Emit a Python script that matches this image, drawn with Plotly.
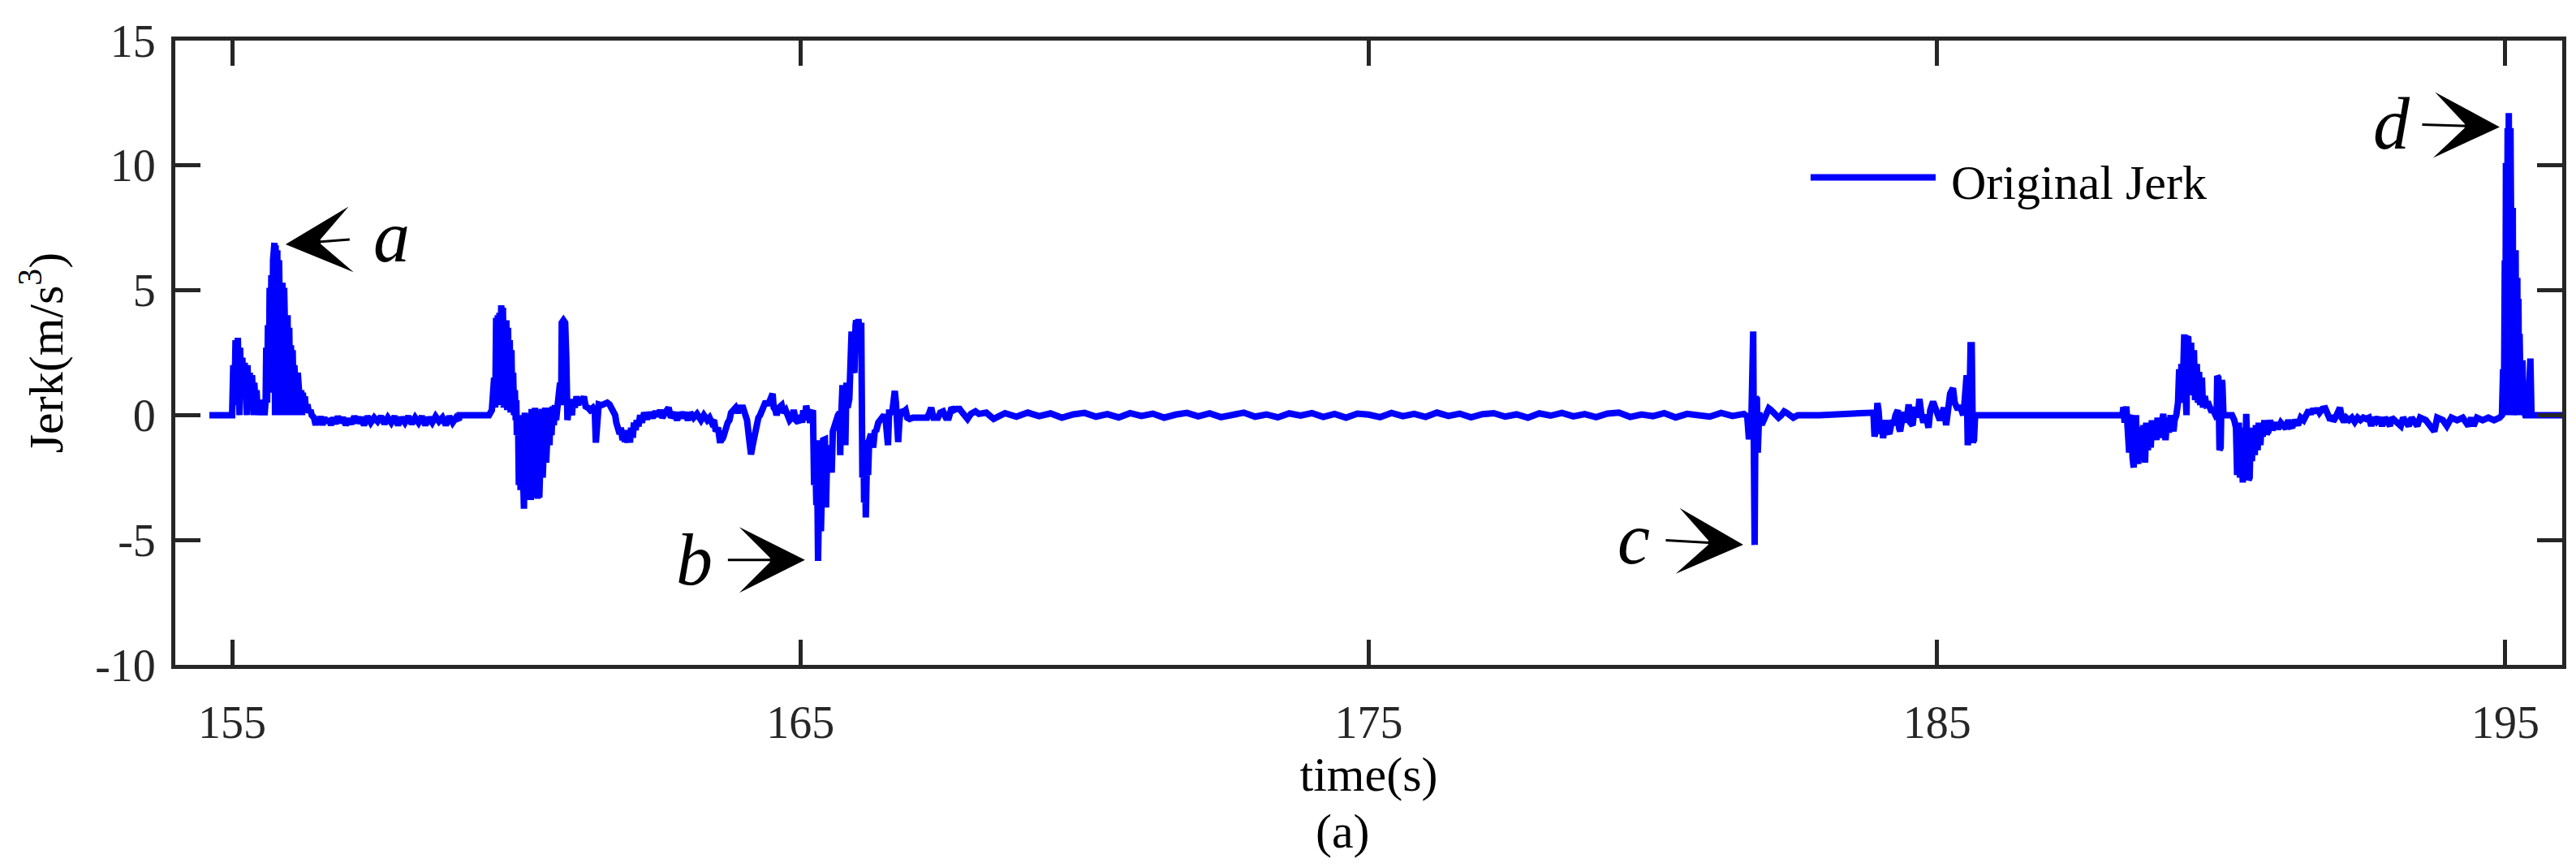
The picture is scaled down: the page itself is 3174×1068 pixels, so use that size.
import plotly.graph_objects as go

# ---------------- data ----------------
# segment 1: start, first bump and peak "a"
t_seg1 = [154.60, 155.00, 155.02, 155.04, 155.06, 155.08, 155.10, 155.12, 155.13, 155.14, 155.16, 155.18,
          155.20, 155.22, 155.24, 155.26, 155.27, 155.29, 155.31, 155.33, 155.35, 155.37, 155.38, 155.39,
          155.41, 155.43, 155.45, 155.47, 155.49, 155.51, 155.52, 155.54, 155.56, 155.57, 155.59,
          155.60, 155.615, 155.63, 155.645, 155.66, 155.675, 155.69, 155.705, 155.72, 155.735, 155.745,
          155.755, 155.765, 155.78, 155.795, 155.81, 155.825, 155.84, 155.855, 155.87, 155.885, 155.90,
          155.915, 155.93, 155.945, 155.96, 155.975, 155.99, 156.005, 156.02, 156.035, 156.05, 156.065,
          156.08, 156.095, 156.11, 156.125, 156.14, 156.155, 156.17, 156.185, 156.20, 156.215, 156.23,
          156.245, 156.26, 156.28, 156.30, 156.325, 156.35, 156.38, 156.40, 156.44]
j_seg1 = [0.0, 0.0, 2.0, 0.4, 3.0, 0.8, 3.1, 0.9, 0.0, 2.7, 0.8, 2.3,
          0.7, 2.1, 0.7, 0.0, 2.0, 0.6, 1.7, 0.6, 1.6, 0.5, 0.0, 1.3,
          0.5, 1.0, 0.0, 0.6, 0.4, 0.6, 0.0, 0.6, 0.5, 0.0, 0.6,
          2.7, 0.5, 3.6, 0.9, 5.1, 1.0, 5.6, 0.9, 6.2, 1.2, 6.9,
          0.0, 6.8, 0.9, 6.6, 0.1, 6.2, 1.0, 5.7, 0.0, 5.3, 1.0,
          5.1, 0.8, 4.6, 0.0, 4.0, 0.8, 3.5, 0.6, 2.8, 0.0, 2.6,
          0.6, 2.0, 0.4, 1.7, 0.0, 1.7, 0.4, 1.2, 0.2, 1.0, 0.0,
          0.9, 0.2, 0.75, 0.1, 0.43, 0.1, 0.2, 0.0, -0.1]

# segment 2: slightly negative tail after "a"
t_seg2 = [156.47, 156.50, 156.53, 156.56, 156.59, 156.62, 156.66, 156.70, 156.74, 156.78, 156.82, 156.86,
          156.90, 156.95, 157.00, 157.05, 157.10, 157.15, 157.20, 157.26, 157.32, 157.38, 157.44, 157.50,
          157.56, 157.62, 157.68, 157.74, 157.80, 157.86, 157.92, 157.98, 158.04, 158.10, 158.16, 158.22,
          158.28, 158.34, 158.40, 158.46, 158.52, 158.58, 158.64, 158.70, 158.76, 158.82, 158.88, 158.94,
          158.99, 159.00, 159.52]
j_seg2 = [-0.4, -0.1, -0.35, -0.05, -0.4, -0.1, -0.3, -0.15, -0.4, -0.1, -0.35, -0.05,
          -0.3, -0.1, -0.4, -0.15, -0.35, -0.05, -0.3, -0.1, -0.4, -0.05, -0.3, -0.1,
          -0.25, -0.05, -0.35, -0.1, -0.3, -0.05, -0.4, -0.1, -0.3, -0.05, -0.35, -0.1,
          -0.3, -0.05, -0.4, -0.1, -0.3, -0.05, -0.25, -0.1, -0.4, -0.05, -0.3, -0.1,
          -0.2, 0.0, 0.0]

# segment 3: burst around 160-161 s
t_seg3 = [159.57, 159.61, 159.63, 159.645, 159.66, 159.675, 159.69, 159.705, 159.72, 159.735, 159.75,
          159.765, 159.78, 159.795, 159.81, 159.825, 159.84, 159.855, 159.87, 159.885, 159.90, 159.915,
          159.93, 159.945, 159.96, 159.975, 159.99, 160.00, 160.01, 160.03, 160.045, 160.06, 160.075,
          160.09, 160.105, 160.12, 160.135, 160.15, 160.165, 160.18, 160.195, 160.21, 160.225, 160.24,
          160.255, 160.27, 160.285, 160.30, 160.315, 160.33, 160.345, 160.36, 160.375, 160.39, 160.405,
          160.42, 160.435, 160.45, 160.465, 160.48, 160.495, 160.51, 160.525, 160.54, 160.555, 160.57,
          160.585, 160.60, 160.62, 160.64, 160.66, 160.68, 160.70, 160.72, 160.75, 160.77, 160.79,
          160.80, 160.83, 160.86, 160.88, 160.90, 160.92, 160.95, 160.98, 161.00, 161.03, 161.06,
          161.09, 161.12, 161.15, 161.19, 161.22, 161.26, 161.30]
j_seg3 = [0.2, 1.5, 0.3, 3.9, 0.5, 4.0, 0.6, 4.1, 0.4, 4.4, 0.8,
          4.3, 0.3, 3.8, 0.5, 3.8, 0.2, 3.5, 0.4, 3.0, 0.1, 2.6,
          0.2, 1.7, 0.0, 1.0, -0.2, 0.6, -0.8, 0.0, -2.8, -0.2, -3.0,
          0.0, -3.4, -0.5, -3.75, 0.1, -3.4, -0.3, -3.3, 0.05, -2.6, -0.4,
          -3.4, 0.25, -3.0, -0.6, -2.9, 0.3, -3.3, -0.5, -3.35, 0.2, -3.3,
          -0.3, -2.6, 0.25, -2.5, -0.2, -2.05, 0.3, -1.9, -0.1, -1.5, 0.3,
          -1.2, 0.2, -0.8, 0.35, -0.4, 0.4, -0.2, 0.4, 0.5, 1.3, 0.4,
          3.7, 3.8, 3.7, 2.3, -0.2, 0.2, 0.3, 0.0, 0.65, 0.3, 0.75,
          0.4, 0.7, 0.5, 0.75, 0.35, 0.3, 0.2]

# segment 4: 161.3 - 168.3 s, including event "b"
t_seg4 = [161.35, 161.38, 161.40, 161.42, 161.45, 161.50, 161.55, 161.60, 161.64, 161.68, 161.71, 161.74,
          161.76, 161.79, 161.82, 161.84, 161.87, 161.89, 161.91, 161.93, 161.96, 161.98, 162.00, 162.02,
          162.05, 162.07, 162.10, 162.12, 162.15, 162.18, 162.21, 162.25, 162.30, 162.35, 162.40, 162.45,
          162.49, 162.53, 162.57, 162.62, 162.68, 162.72, 162.78, 162.83, 162.87, 162.92, 162.97, 163.02,
          163.06, 163.12, 163.18, 163.25, 163.30, 163.36, 163.40, 163.44, 163.48, 163.51, 163.55, 163.58,
          163.61, 163.64, 163.68, 163.72, 163.75, 163.78, 163.82, 163.86, 163.90, 163.94, 163.99, 164.03,
          164.06, 164.09, 164.11, 164.13, 164.16, 164.18, 164.20, 164.22, 164.26, 164.29, 164.33, 164.36,
          164.39, 164.43, 164.47, 164.51, 164.53, 164.56, 164.58, 164.62, 164.67, 164.70, 164.74, 164.78,
          164.81, 164.85, 164.88, 164.92, 164.96, 165.00, 165.03, 165.05, 165.08, 165.10, 165.13, 165.17,
          165.20, 165.22, 165.24, 165.26, 165.28, 165.29, 165.31, 165.33, 165.36, 165.37, 165.38, 165.40,
          165.43, 165.45, 165.47, 165.48, 165.50, 165.53, 165.55, 165.57, 165.60, 165.62, 165.66, 165.69,
          165.70, 165.71, 165.74, 165.76, 165.79, 165.81, 165.83, 165.86, 165.88, 165.90, 165.92, 165.95,
          165.97, 165.98, 166.00, 166.02, 166.05, 166.07, 166.09, 166.11, 166.12, 166.14, 166.15, 166.17,
          166.19, 166.21, 166.24, 166.26, 166.28, 166.31, 166.33, 166.37, 166.40, 166.44, 166.47, 166.50,
          166.54, 166.56, 166.59, 166.62, 166.66, 166.68, 166.70, 166.72, 166.74, 166.76, 166.80, 166.85,
          166.88, 166.92, 166.98, 167.04, 167.10, 167.16, 167.23, 167.27, 167.30, 167.34, 167.38, 167.42,
          167.46, 167.51, 167.56, 167.61, 167.66, 167.70, 167.75, 167.80, 167.85, 167.90, 167.94, 168.00,
          168.08, 168.14, 168.20, 168.27]
j_seg4 = [0.3, 0.2, -1.1, 0.1, 0.43, 0.4, 0.45, 0.5, 0.43, 0.2, 0.2, 0.0,
          -0.3, -0.5, -0.75, -0.5, -1.0, -0.6, -1.08, -0.7, -1.1, -0.6, -1.1, -0.5,
          -0.9, -0.3, -0.6, -0.2, -0.45, 0.0, -0.3, 0.1, -0.15, 0.1, -0.1, 0.15,
          -0.05, 0.2, -0.1, 0.1, 0.3, -0.1, 0.1, -0.2, 0.1, -0.1, 0.1, -0.2,
          0.1, -0.1, 0.05, -0.2, 0.0, -0.2, -0.1, -0.3, -0.2, -0.65, -0.5, -1.0,
          -1.0, -0.9, -0.5, -0.3, -0.2, 0.1, 0.2, 0.3, 0.1, 0.3, 0.3, 0.0,
          -0.2, -0.8, -1.2, -1.57, -1.2, -0.9, -0.6, -0.3, -0.1, 0.0, 0.2, 0.4,
          0.55, 0.4, 0.6, 0.86, 0.3, 0.2, 0.0, 0.3, 0.4, 0.1, 0.2, -0.1,
          -0.2, -0.1, 0.2, -0.2, -0.3, 0.0, -0.3, 0.2, -0.2, 0.38, -0.1, -0.3,
          0.1, 0.2, -2.8, -1.5, -3.6, -1.0, -5.84, -3.0, -4.65, -2.0, -1.2, -1.0,
          -0.97, -3.7, -1.5, -2.2, -1.2, -2.0, -2.3, -0.65, -0.4, -0.3, 0.0, 0.1,
          -1.6, -0.5, 1.2, -0.2, -1.2, 1.3, 0.3, 0.65, 2.3, 3.35, 1.9, 1.7,
          3.6, 3.8, 2.5, 3.85, 3.0, 3.7, -2.5, -1.0, -3.5, -2.2, -4.1, -1.8,
          -2.4, -1.0, -0.75, -1.0, -1.3, -0.6, -0.65, -0.3, -0.2, 0.0, 0.0, -0.2,
          -1.2, 0.1, 0.1, 0.2, 0.97, 0.5, -0.6, -1.08, -0.3, 0.2, 0.1, 0.2,
          -0.1, -0.15, -0.1, -0.1, -0.15, -0.1, -0.1, 0.1, 0.3, -0.1, -0.1, -0.1,
          0.1, 0.15, -0.1, -0.1, 0.3, 0.2, 0.25, 0.25, 0.1, -0.05, -0.15, 0.05,
          0.15, 0.05, 0.1, 0.1]

# segment 5: quiet stretch 168.4 - 181.6 s
t_seg5 = [168.4, 168.6, 168.8, 169.0, 169.2, 169.4, 169.6, 169.8, 170.0, 170.2, 170.4, 170.6, 170.8,
          171.0, 171.2, 171.4, 171.6, 171.8, 172.0, 172.2, 172.4, 172.6, 172.8, 173.0, 173.2, 173.4,
          173.6, 173.8, 174.0, 174.2, 174.4, 174.6, 174.8, 175.0, 175.2, 175.4, 175.6, 175.8, 176.0,
          176.2, 176.4, 176.6, 176.8, 177.0, 177.2, 177.4, 177.6, 177.8, 178.0, 178.2, 178.4, 178.6,
          178.8, 179.0, 179.2, 179.4, 179.6, 179.8, 180.0, 180.2, 180.4, 180.6, 180.8, 181.0, 181.2,
          181.4, 181.6]
j_seg5 = [-0.15, 0.08, -0.06, 0.1, -0.04, 0.07, -0.1, 0.03, 0.09, -0.06, 0.04, -0.09, 0.08,
          -0.03, 0.06, -0.1, 0.02, 0.09, -0.05, 0.07, -0.08, 0.04, 0.1, -0.06, 0.03, -0.09,
          0.07, -0.02, 0.08, -0.07, 0.05, -0.1, 0.06, 0.02, -0.08, 0.09, -0.04, 0.05, -0.07,
          0.1, -0.03, 0.06, -0.09, 0.04, 0.08, -0.06, 0.03, -0.1, 0.07, -0.02, 0.09, -0.05,
          0.04, -0.08, 0.06, 0.1, -0.07, 0.03, -0.04, 0.08, -0.09, 0.05, 0.02, -0.06, 0.09,
          -0.03, 0.05]

# segment 6: event "c" and the small burst near 184-185.7 s
t_seg6 = [181.66, 181.69, 181.71, 181.73, 181.75, 181.765, 181.775, 181.79, 181.80, 181.81, 181.83,
          181.845, 181.855, 181.87, 181.88, 181.90, 181.93, 181.97, 182.00, 182.04, 182.08, 182.12,
          182.17, 182.21, 182.26, 182.31, 182.35, 182.40, 182.47, 182.55, 182.64, 182.75, 182.93,
          183.85, 183.88, 183.90, 183.93, 183.95, 183.97, 184.00, 184.03, 184.05, 184.07, 184.09,
          184.12, 184.16, 184.20, 184.24, 184.27, 184.31, 184.33, 184.35, 184.39, 184.43, 184.46,
          184.50, 184.53, 184.57, 184.60, 184.62, 184.66, 184.69, 184.72, 184.76, 184.79, 184.81,
          184.85, 184.88, 184.93, 184.97, 185.00, 185.05, 185.09, 185.12, 185.16, 185.20, 185.23,
          185.28, 185.31, 185.35, 185.40, 185.43, 185.46, 185.48, 185.50, 185.52, 185.54, 185.56,
          185.59, 185.61, 185.63, 185.65, 185.67, 185.69, 188.26]
j_seg6 = [-0.05, -0.97, 0.0, -0.5, 3.35, 3.35, -1.0, -5.2, -1.5, 0.7, 0.65,
          -1.5, -0.8, 0.1, 0.0, -0.3, -0.3, -0.1, 0.1, 0.27, 0.2, 0.1,
          0.0, -0.1, 0.0, 0.15, 0.1, 0.0, -0.1, 0.0, 0.02, 0.0, 0.0,
          0.16, 0.1, -0.86, -0.5, 0.49, 0.2, -0.75, -0.2, -0.92, -0.4, -0.2,
          -0.6, -0.75, -0.3, -0.3, 0.0, 0.2, -0.5, -0.65, -0.1, 0.1, -0.3,
          0.43, -0.3, -0.4, 0.2, 0.3, -0.1, 0.65, 0.1, -0.3, 0.0, -0.1,
          -0.5, 0.2, 0.54, 0.2, 0.1, -0.2, 0.1, 0.3, -0.4, 0.4, 0.86,
          1.08, 0.5, 0.3, 0.3, 0.2, 0.0, 0.4, 1.6, 1.6, -1.2, -0.8,
          2.8, 2.8, -1.08, -1.0, 0.0, 0.0, 0.0]

# segment 7: burst 188.3 - 193 s
t_seg7 = [188.28, 188.30, 188.33, 188.35, 188.38, 188.40, 188.42, 188.44, 188.46, 188.48, 188.50, 188.52,
          188.54, 188.56, 188.59, 188.61, 188.63, 188.66, 188.68, 188.71, 188.73, 188.76, 188.78, 188.81,
          188.83, 188.86, 188.88, 188.91, 188.95, 188.98, 189.00, 189.02, 189.05, 189.08, 189.11, 189.13,
          189.16, 189.18, 189.21, 189.24, 189.26, 189.28, 189.30, 189.32, 189.35, 189.37, 189.39, 189.40,
          189.42, 189.44, 189.47, 189.49, 189.52, 189.54, 189.57, 189.59, 189.61, 189.63, 189.66, 189.68,
          189.71, 189.74, 189.78, 189.82, 189.85, 189.88, 189.90, 189.92, 189.93, 189.95, 189.97, 189.99,
          190.01, 190.02, 190.04, 190.10, 190.19, 190.23, 190.26, 190.28, 190.30, 190.31, 190.33, 190.35,
          190.38, 190.40, 190.42, 190.44, 190.45, 190.48, 190.50, 190.52, 190.54, 190.56, 190.59, 190.61,
          190.64, 190.66, 190.69, 190.71, 190.73, 190.76, 190.80, 190.83, 190.86, 190.90, 190.95, 191.00,
          191.05, 191.10, 191.14, 191.18, 191.22, 191.26, 191.30, 191.35, 191.40, 191.45, 191.50, 191.54,
          191.58, 191.62, 191.66, 191.69, 191.73, 191.78, 191.83, 191.87, 191.92, 191.95, 191.97, 192.01,
          192.05, 192.09, 192.12, 192.16, 192.20, 192.25, 192.30, 192.35, 192.40, 192.45, 192.50, 192.55,
          192.60, 192.64, 192.68, 192.73, 192.78, 192.83, 192.88, 192.93, 192.97]
j_seg7 = [0.32, -0.3, 0.35, -0.2, -1.5, -0.1, 0.0, -1.7, -2.1, -0.5, 0.0, -1.6,
          -1.95, -0.6, -0.6, -1.8, -0.4, -1.9, -0.3, -1.4, -0.3, -1.3, -0.2, -0.9,
          -0.3, -1.0, -0.1, -0.9, 0.0, 0.05, -0.6, -1.0, -0.1, -0.7, 0.0, -0.6,
          -0.65, -0.2, 0.0, 0.5, 1.84, 0.5, 2.05, 0.8, 3.24, 1.0, 0.0, 3.1,
          3.15, 1.0, 2.9, 0.8, 2.6, 0.6, 2.05, 0.5, 1.73, 0.4, 1.5, 0.3,
          0.76, 0.4, 0.43, 0.2, 0.2, 0.1, 0.0, 0.05, 1.57, 1.5, -1.4, -1.3,
          1.4, 1.3, 0.0, 0.0, 0.0, -0.2, -0.5, -2.4, -1.78, -0.3, -2.5, -0.5,
          -2.7, -0.8, -2.5, 0.05, -1.0, -2.6, -2.5, -0.6, -1.84, -0.5, -1.6, -0.4,
          -1.4, -0.3, -1.2, -0.3, -0.86, -0.2, -0.75, -0.65, -0.2, -0.6, -0.3, -0.55,
          -0.3, -0.5, -0.54, -0.2, -0.45, -0.43, -0.2, -0.4, -0.1, -0.2, 0.1, 0.2,
          0.05, 0.25, 0.1, 0.27, 0.1, 0.25, 0.27, 0.1, -0.2, 0.0, -0.25, -0.1,
          0.1, 0.3, -0.1, -0.27, -0.1, -0.2, -0.1, -0.27, -0.1, -0.2, -0.1, -0.15,
          -0.1, -0.43, -0.1, -0.25, -0.1, -0.43, -0.1, -0.3, -0.43]

# segment 8: tail and event "d"
t_seg8 = [193.00, 193.16, 193.20, 193.30, 193.35, 193.45, 193.50, 193.60, 193.75, 193.80, 193.90, 193.97,
          194.05, 194.15, 194.25, 194.35, 194.40, 194.44, 194.50, 194.60, 194.70, 194.80, 194.90, 194.94,
          194.96, 194.975, 194.99, 195.00, 195.01, 195.025, 195.04, 195.05, 195.06, 195.075, 195.09,
          195.10, 195.11, 195.12, 195.13, 195.14, 195.15, 195.165, 195.18, 195.19, 195.21, 195.22,
          195.23, 195.24, 195.25, 195.27, 195.30, 195.32, 195.35, 195.40, 195.42, 195.44, 195.46,
          195.49, 196.00]
j_seg8 = [-0.1, -0.43, -0.1, -0.43, -0.1, -0.43, -0.1, -0.2, -0.65, -0.1, -0.2, -0.43,
          -0.1, -0.2, -0.1, -0.43, -0.1, -0.43, -0.1, -0.2, -0.1, -0.2, -0.1, 0.0,
          1.84, 0.3, 6.2, 1.0, 10.1, 2.0, 11.5, 0.0, 12.1, 3.0, 11.5,
          1.0, 10.8, 0.5, 8.3, 0.0, 8.0, 1.0, 6.6, 0.8, 5.5, 0.5,
          4.65, 0.0, 3.25, 0.5, 2.2, 0.2, 0.0, 0.0, 2.27, 2.27, 0.0,
          0.0, 0.0]

x_ticks = [155, 165, 175, 185, 195]
y_ticks = [-10, -5, 0, 5, 10, 15]
y_ticktext = ["-10", "-5", "0", "5", "10", "15"]

# marked events: label and the point the arrow touches
event_labels = ["a", "b", "c", "d"]
event_tip_t = [155.94, 165.08, 181.59, 194.90]
event_tip_j = [6.84, -5.80, -5.19, 11.54]

# ---------------- figure ----------------
time = t_seg1 + t_seg2 + t_seg3 + t_seg4 + t_seg5 + t_seg6 + t_seg7 + t_seg8
jerk = j_seg1 + j_seg2 + j_seg3 + j_seg4 + j_seg5 + j_seg6 + j_seg7 + j_seg8

FONT = "Liberation Serif"
AX = "#262626"

fig = go.Figure()
fig.add_trace(go.Scatter(x=time, y=jerk, mode="lines", name="Original Jerk",
                         line=dict(color="#0000FF", width=8), showlegend=False))

axis_common = dict(showgrid=False, zeroline=False, showline=True, linewidth=5, linecolor=AX,
                   mirror="ticks", ticks="inside", ticklen=31, tickwidth=5, tickcolor=AX,
                   tickfont=dict(family=FONT, size=56, color=AX))

fig.update_xaxes(range=[154, 196], tickvals=x_ticks, ticktext=[str(v) for v in x_ticks],
                 ticklabelstandoff=18,
                 title=dict(text="time(s)", font=dict(family=FONT, size=60, color="#000000"), standoff=4),
                 **axis_common)
fig.update_yaxes(range=[-10, 15], tickvals=y_ticks, ticktext=y_ticktext, ticklabelstandoff=8,
                 title=dict(text="Jerk(m/s<sup>3</sup>)", font=dict(family=FONT, size=60, color="#000000"),
                            standoff=22),
                 **axis_common)

# letters with arrows pointing at the marked events (offsets in pixels: label position vs arrow tip)
label_dx = [131, -136, -135, -133]
label_dy = [-10, 0, -8, -4]
label_pad = [29, 18, 19, 14]
for lab, tt, tj, dx, dy, pad in zip(event_labels, event_tip_t, event_tip_j, label_dx, label_dy, label_pad):
    fig.add_annotation(x=tt, y=tj, xref="x", yref="y", text=lab, showarrow=True,
                       ax=dx, ay=dy, arrowhead=3, arrowsize=4.5, arrowwidth=3, arrowcolor="#000000",
                       standoff=0, borderpad=pad,
                       font=dict(family=FONT, size=90, color="#000000", style="italic"))

# legend drawn by hand (long line sample like the original)
fig.add_shape(type="line", xref="paper", yref="paper", x0=0.6851, x1=0.7375, y0=0.7808, y1=0.7808,
              line=dict(color="#0000FF", width=8))
fig.add_annotation(x=0.7433, y=0.773, xref="paper", yref="paper", text="Original Jerk", showarrow=False,
                   xanchor="left", yanchor="middle", font=dict(family=FONT, size=60, color="#000000"))

# sub-figure caption
fig.add_annotation(x=0.489, y=-0.266, xref="paper", yref="paper", text="(a)", showarrow=False,
                   xanchor="center", yanchor="middle", font=dict(family=FONT, size=60, color="#000000"))

fig.update_layout(width=3174, height=1068, margin=dict(l=208, r=25, t=40, b=257),
                  paper_bgcolor="white", plot_bgcolor="white", showlegend=False)

fig.write_html("out.html")
